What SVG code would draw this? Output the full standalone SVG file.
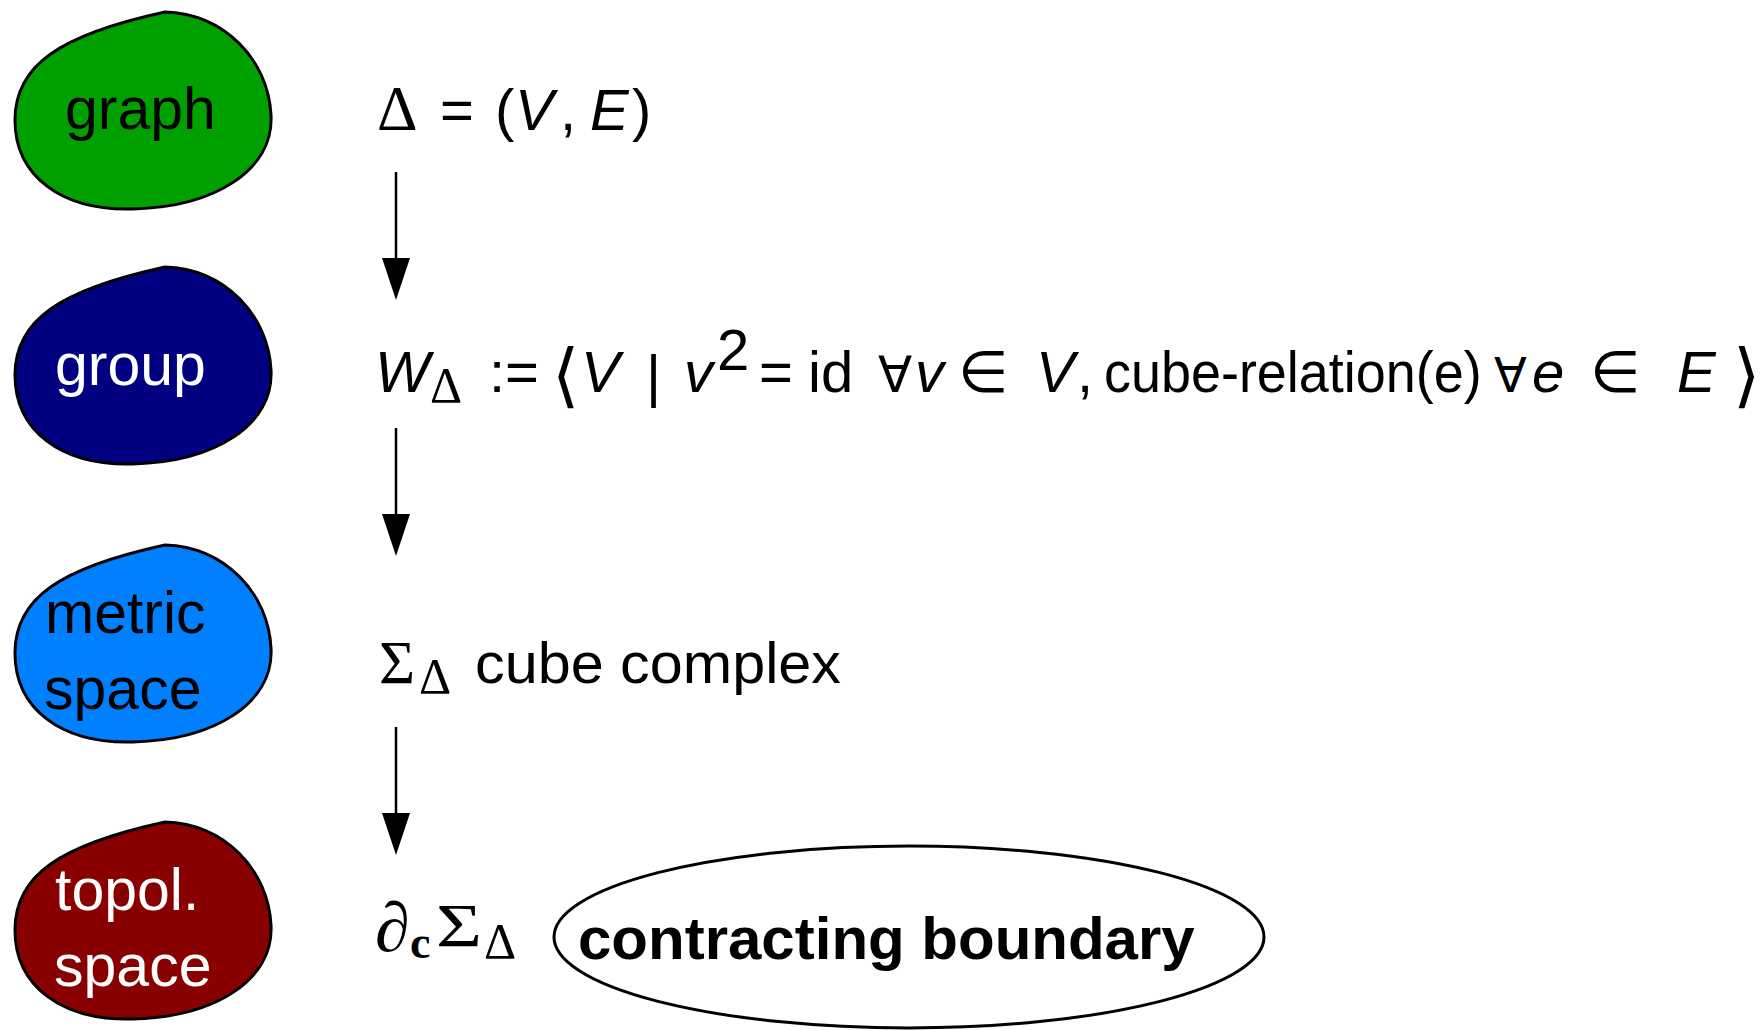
<svg xmlns="http://www.w3.org/2000/svg" width="1762" height="1030" viewBox="0 0 1762 1030">
<style>
.sans{font-family:"Liberation Sans",Arial,sans-serif;font-size:58px;fill:#000}
.it{font-style:italic}
.ser{font-family:"Liberation Serif","Times New Roman",serif;fill:#000}
.sym{font-family:"DejaVu Sans",sans-serif;fill:#000}
.brk{font-family:"DejaVu Sans",sans-serif;fill:#000;font-weight:200;font-size:70px}
.blob{stroke:#000;stroke-width:3}
.lbl{font-family:"Liberation Sans",Arial,sans-serif;font-size:59px}
.conn{stroke:#000;stroke-width:2.5;fill:none}
</style>
<defs>
<path id="blobshape" d="M165,12 C225,14 268,60 271,115 C274,170 215,207 133,209 C60,211 15,175 15,120 C15,65 60,35 165,12 Z"/>
<marker id="ah" viewBox="0 0 42 28" refX="0" refY="14" markerWidth="42" markerHeight="28" markerUnits="userSpaceOnUse" orient="auto">
<path d="M0,0 L42,14 L0,28 Z" fill="#000"/>
</marker>
</defs>
<rect width="1762" height="1030" fill="#fff"/>

<g id="node-graph">
<use href="#blobshape" class="blob" fill="#00a000"/>
<text class="lbl" x="65" y="129" fill="#000">graph</text>
</g>
<g id="node-group" transform="translate(0,255)">
<use href="#blobshape" class="blob" fill="#000080"/>
<text class="lbl" x="55" y="130" fill="#fff">group</text>
</g>
<g id="node-metric" transform="translate(0,533)">
<use href="#blobshape" class="blob" fill="#0080ff"/>
<text class="lbl" x="45" y="100" fill="#000">metric</text>
<text class="lbl" x="44" y="176" fill="#000">space</text>
</g>
<g id="node-topol" transform="translate(0,810)">
<use href="#blobshape" class="blob" fill="#880000"/>
<text class="lbl" x="55" y="100" fill="#fff">topol.</text>
<text class="lbl" x="54" y="176" fill="#fff">space</text>
</g>

<g id="formula-graph">
<text class="ser" x="377" y="130" font-size="63">Δ</text>
<text class="sans" x="440" y="130">=</text>
<text class="sans" x="495" y="130">(</text>
<text class="sans it" x="515" y="130">V</text>
<text class="sans" x="560" y="130">,</text>
<text class="sans it" x="590" y="130">E</text>
<text class="sans" x="632" y="130">)</text>
</g>

<g id="formula-group">
<text class="sans it" x="375" y="392">W</text>
<text class="ser" x="430" y="402" font-size="50">Δ</text>
<text class="sans" x="489" y="392">:=</text>
<text class="brk" x="552" y="399">⟨</text>
<text class="sans it" x="581" y="392">V</text>
<text class="sans" x="646" y="396" font-size="64">|</text>
<text class="sans it" x="684" y="392">v</text>
<text class="sans" x="717" y="370" font-size="38">2</text>
<text class="sans" x="759" y="392">=</text>
<text class="sans" x="808" y="392">id</text>
<text class="sym" x="878" y="392" font-size="50">∀</text>
<text class="sans it" x="915" y="392">v</text>
<text class="sym" x="958" y="392" font-size="58">∈</text>
<text class="sans it" x="1036" y="392">V</text>
<text class="sans" x="1077" y="392">,</text>
<text class="sans" transform="translate(1104,392) scale(0.93,1)" x="0" y="0">cube-relation(e)</text>
<text class="sym" x="1494" y="392" font-size="48">∀</text>
<text class="sans it" x="1532" y="392">e</text>
<text class="sym" x="1590" y="392" font-size="58">∈</text>
<text class="sans it" x="1677" y="392">E</text>
<text class="brk" x="1733" y="399">⟩</text>
</g>

<g id="formula-metric">
<text class="ser" x="379" y="683" font-size="62">Σ</text>
<text class="ser" x="419" y="693" font-size="50">Δ</text>
<text class="sans" x="475" y="683" font-size="59" textLength="366" lengthAdjust="spacingAndGlyphs">cube complex</text>
</g>

<g id="formula-topol">
<text class="ser it" x="375" y="951" font-size="70">∂</text>
<text class="ser" x="410" y="958" font-size="46" font-weight="bold">c</text>
<text class="ser" x="436" y="946" font-size="62" textLength="46" lengthAdjust="spacingAndGlyphs">Σ</text>
<text class="ser" x="484" y="958" font-size="50">Δ</text>
</g>

<g id="node-boundary">
<ellipse cx="909" cy="937" rx="355" ry="91" fill="#fff" stroke="#000" stroke-width="3"/>
<text x="578" y="959" font-family="Liberation Sans,Arial,sans-serif" font-size="60" font-weight="bold" fill="#000">contracting boundary</text>
</g>

<g id="connectors">
<line class="conn" x1="396" y1="172" x2="396" y2="258" marker-end="url(#ah)"/>
<line class="conn" x1="396" y1="428" x2="396" y2="514" marker-end="url(#ah)"/>
<line class="conn" x1="396" y1="727" x2="396" y2="813" marker-end="url(#ah)"/>
</g>
</svg>
